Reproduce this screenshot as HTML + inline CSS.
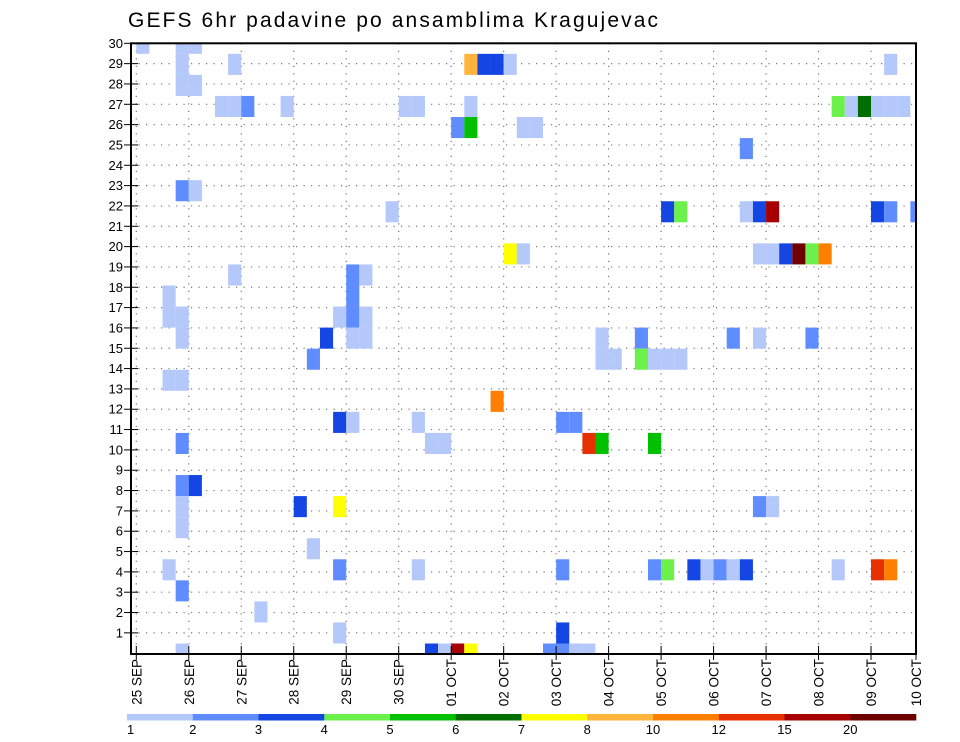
<!DOCTYPE html>
<html><head><meta charset="utf-8"><style>
html,body{margin:0;padding:0;background:#fff;}
svg{display:block;font-family:"Liberation Sans",sans-serif;}
</style></head><body>
<svg id="chart" width="960" height="742" viewBox="0 0 960 742" xmlns="http://www.w3.org/2000/svg">
<text x="128" y="27" font-size="21" textLength="530" lengthAdjust="spacing" fill="#000">GEFS 6hr padavine po ansamblima Kragujevac</text>
<g id="grid"></g>
<g id="cells"></g>
<rect x="131" y="43.3" width="785" height="610.7" fill="none" stroke="#000" stroke-width="2"/>
<g id="axes"></g>
<g id="legend"></g>
</svg>
<script>
// ---- data ----
const dayLabels = ["25 SEP","26 SEP","27 SEP","28 SEP","29 SEP","30 SEP","01 OCT","02 OCT","03 OCT","04 OCT","05 OCT","06 OCT","07 OCT","08 OCT","09 OCT","10 OCT"];
const memberTicks = [1,2,3,4,5,6,7,8,9,10,11,12,13,14,15,16,17,18,19,20,21,22,23,24,25,26,27,28,29,30];
const levelBounds = [1,2,3,4,5,6,7,8,10,12,15,20];
const levelColors = ["#b4c8fa","#5f8cff","#1446e4","#6cf04c","#00c000","#006e00","#ffff00","#ffb43c","#ff8000","#e63000","#a60000","#6e0000"];
// cell: step index (6h from 25 SEP 00z), member row, precip value (mm)
const cellSteps   = [0,3,4, 3,7,25,26,27,28,57, 3,4, 6,7,8,11,20,21,25,53,54,55,56,57,58, 24,25,29,30, 46, 3,4, 19,40,41,46,47,48,56,57,59, 28,29,47,48,49,50,51,52, 7,16,17, 2,16, 2,3,15,16,17, 3,14,16,17,35,38,45,47,51, 13,35,36,38,39,40,41, 2,3, 27, 15,16,21,32,33, 3,22,23,34,35,39, 3,4, 3,12,15,47,48, 3, 13, 2,15,21,32,39,40,42,43,44,45,46,53,56,57, 3, 9, 15,32, 3,22,23,24,25,31,32,33,34];
const cellMembers = [30,30,30, 29,29,29,29,29,29,29, 28,28, 27,27,27,27,27,27,27,27,27,27,27,27,27, 26,26,26,26, 25, 23,23, 22,22,22,22,22,22,22,22,22, 20,20,20,20,20,20,20,20, 19,19,19, 18,18, 17,17,17,17,17, 16,16,16,16,16,16,16,16,16, 15,15,15,15,15,15,15, 14,14, 13, 12,12,12,12,12, 11,11,11,11,11,11, 9,9, 8,8,8,8,8, 7, 6, 5,5,5,5,5,5,5,5,5,5,5,5,5,5, 4, 3, 2,2, 1,1,1,1,1,1,1,1,1];
const cellValues  = [1.5,1.5,1.5, 1.5,1.5,9,3.5,3.5,1.5,1.5, 1.5,1.5, 1.5,1.5,2.5,1.5,1.5,1.5,1.5,4.5,1.5,6.5,1.5,1.5,1.5, 2.5,5.5,1.5,1.5, 2.5, 2.5,1.5, 1.5,3.5,4.5,1.5,3.5,17,3.5,2.5,2.5, 7.5,1.5,1.5,1.5,3.5,22,4.5,11, 1.5,2.5,1.5, 1.5,2.5, 1.5,1.5,1.5,2.5,1.5, 1.5,3.5,1.5,1.5,1.5,2.5,2.5,1.5,2.5, 2.5,1.5,1.5,4.5,1.5,1.5,1.5, 1.5,1.5, 11, 3.5,1.5,1.5,2.5,2.5, 2.5,1.5,1.5,13.5,5.5,5.5, 2.5,3.5, 1.5,3.5,7.5,2.5,1.5, 1.5, 1.5, 1.5,2.5,1.5,2.5,2.5,4.5,3.5,1.5,2.5,1.5,3.5,1.5,13.5,11, 2.5, 1.5, 1.5,3.5, 1.5,3.5,1.5,17,7.5,2.5,2.5,1.5,1.5];

// ---- scales ----
const NS="http://www.w3.org/2000/svg";
const plotL=131, plotR=916, plotT=43.3, plotB=654;
const x0=136.3, stepW=13.12;
const xStep = s => x0 + s*stepW;          // left edge of 6h step
const xDay = d => x0 + d*4*stepW;         // day tick
const yTick = m => 43.3 + (30-m)*20.33;   // axis label position
const cellH = 21.06;
const yCellC = m => 43.3 + (30-m)*cellH;  // cell centre
function colorFor(v){let k=0;for(let i=0;i<levelBounds.length;i++){if(v>=levelBounds[i])k=i;}return levelColors[k];}
function mk(tag,attrs,parent){const e=document.createElementNS(NS,tag);for(const k in attrs)e.setAttribute(k,attrs[k]);parent.appendChild(e);return e;}

// grid
const grid=document.getElementById('grid');
memberTicks.forEach(m=>{
  const l=mk('line',{x1:plotL,x2:plotR,y1:yTick(m),y2:yTick(m),stroke:'#777','stroke-width':1.2,'stroke-dasharray':'1.2,6.3'},grid);
  
  
});
dayLabels.forEach((d,i)=>{
  const x=xDay(i); if(x>plotR-2) return;
  const l=mk('line',{x1:x,x2:x,y1:plotT,y2:plotB,stroke:'#777','stroke-width':1.2,'stroke-dasharray':'1.2,6.3'},grid);
  
  
});

// cells
const cells=document.getElementById('cells');
for(let i=0;i<cellSteps.length;i++){
  let x=xStep(cellSteps[i]), w=stepW;
  let y=yCellC(cellMembers[i])-cellH/2, h=cellH;
  if(x<plotL){w-=plotL-x;x=plotL;}
  if(x+w>plotR){w=plotR-x;}
  if(y<plotT){h-=plotT-y;y=plotT;}
  if(y+h>plotB){h=plotB-y;}
  const r=mk('rect',{x:x,y:y,width:w,height:h,fill:colorFor(cellValues[i])},cells);
  
  
}

// axes
const axes=document.getElementById('axes');
memberTicks.forEach(m=>{
  const y=yTick(m);
  const t=mk('line',{x1:124,x2:138,y1:y,y2:y,stroke:'#000','stroke-width':1},axes);
  
  
  const tx=mk('text',{x:123,y:y+4.5,'font-size':13,'text-anchor':'end',fill:'#000'},axes);
  tx.textContent=m;
  
  
});
dayLabels.forEach((d,i)=>{
  let x=xDay(i); if(x>plotR) x=plotR;
  const t=mk('line',{x1:x,x2:x,y1:plotB-8,y2:plotB+6,stroke:'#000','stroke-width':1},axes);
  
  
  const tx=mk('text',{x:0,y:0,'font-size':13.5,'text-anchor':'end',fill:'#000',transform:`translate(${x+5},659) rotate(-90)`},axes);
  tx.textContent=d;
  
  
});

// legend
const leg=document.getElementById('legend');
const lx0=127, lx1=916, segW=(lx1-lx0)/levelColors.length;
levelColors.forEach((c,i)=>{
  const r=mk('rect',{x:lx0+i*segW,y:714,width:segW+0.3,height:6.5,fill:c},leg);
  
  
});
levelBounds.forEach((b,i)=>{
  const tx=mk('text',{x:lx0+i*segW,y:734,'font-size':13,'text-anchor':i===0?'start':'middle',fill:'#000'},leg);
  tx.textContent=b;
  
  
});
</script>
</body></html>
